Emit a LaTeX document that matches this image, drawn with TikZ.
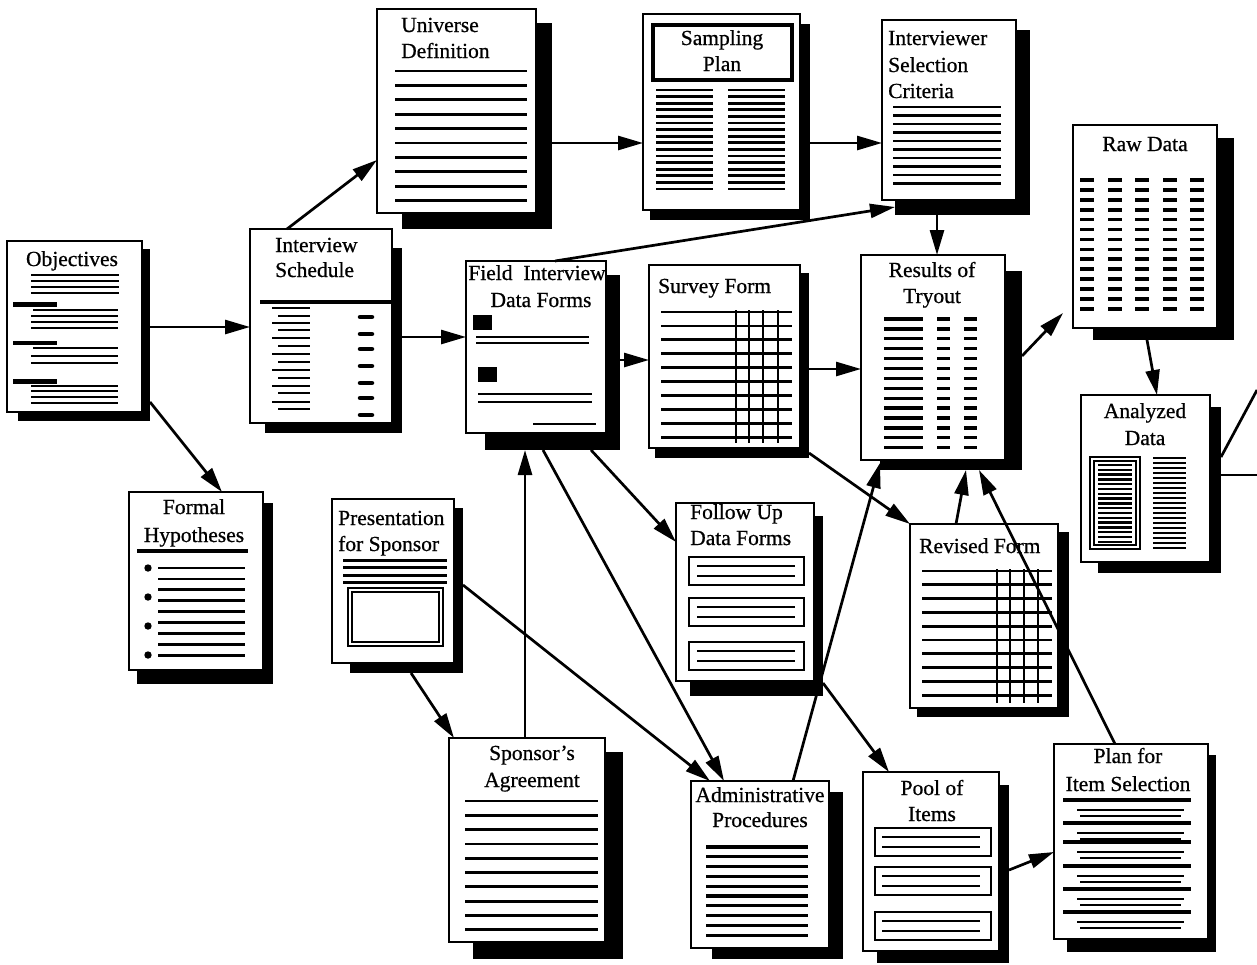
\documentclass[tikz,border=0pt]{standalone}
\usepackage{fontspec}
\setmainfont{Liberation Serif}
\newfontfamily\inkserif{Liberation Serif}[FakeBold=0.7]
\usetikzlibrary{arrows.meta}
\newcommand\titlefont{\inkserif\fontsize{21.5}{26}\selectfont}
% #1 name, #2-#5 page corners, #6-#9 shadow corners
\newcommand\paper[9]{%
  \node[shadowbox, minimum width={#8-#6}, minimum height={#9-#7}] (#1S) at ({(#6+#8)/2},{(#7+#9)/2}) {};
  \node[pagebox, minimum width={#4-#2}, minimum height={#5-#3}] (#1) at ({(#2+#4)/2},{(#3+#5)/2}) {};
}
\begin{document}
\begin{tikzpicture}[x=1pt,y=-1pt,
  shadowbox/.style={fill=black, draw=none, inner sep=0pt, outer sep=0pt},
  pagebox/.style={fill=white, draw=black, line width=2.8pt, inner sep=0pt, outer sep=0pt},
  rule/.style={line width=2.8pt},
  thinrule/.style={line width=1.8pt},
  lbl/.style={font=\titlefont, inner sep=0pt, anchor=base},
  lblw/.style={font=\titlefont, inner sep=0pt, anchor=base west},
  arr/.style={line width=2.7pt, -{Triangle[length=25pt,width=14pt]}},
  link/.style={line width=2.7pt}]
\useasboundingbox (0,0) rectangle (1257,964);
\fill[white] (0,0) rectangle (1257,964);

% ---------- Objectives ----------
\paper{obj}{7}{241}{142}{412}{18}{249}{150}{421}
\node[lbl] (objT) at (72,266) {Objectives};
\foreach \y in {275,281,287,293} \draw[rule] (31,\y) -- (119,\y);
\fill (13,302) rectangle (57,307);
\draw[thinrule] (33,310) -- (118,310);
\foreach \y in {316,322,328} \draw[rule] (31,\y) -- (118,\y);
\fill (13,341) rectangle (57,345);
\draw[thinrule] (33,348) -- (118,348);
\foreach \y in {356,363} \draw[rule] (31,\y) -- (118,\y);
\fill (13,379) rectangle (57,384);
\foreach \y in {386,391,397,403} \draw[rule] (31,\y) -- (118,\y);

% ---------- Interview Schedule ----------
\paper{isch}{250}{229}{392}{423}{265}{248}{402}{433}
\node[lblw] (ischT1) at (275,252) {Interview};
\node[lblw] (ischT2) at (275,277) {Schedule};
\draw[line width=3.2pt] (260,302) -- (391,302);
\foreach \y [count=\i] in {308,316,323,330,338,346,354,362,370,378,386,393,402,409}
  \draw[rule] ({isodd(\i) ? 272 : 278},\y) -- (310,\y);
\foreach \y in {317,334,349,366,383,398,415}
  \draw[line width=4.5pt, line cap=round] (360,\y) -- (372,\y);

% ---------- Universe Definition ----------
\paper{ud}{377}{9}{536}{213}{402}{23}{552}{229}
\node[lblw] (udT1) at (401,32) {Universe};
\node[lblw] (udT2) at (401,58) {Definition};
\foreach \k in {0,...,9} \draw[rule] (395,{71+14.4*\k}) -- (527,{71+14.4*\k});

% ---------- Sampling Plan ----------
\paper{sp}{643}{14}{800}{210}{650}{24}{810}{220}
\draw[line width=4.8pt] (653,25) rectangle (792,80);
\node[lbl] (spT1) at (722,45) {Sampling};
\node[lbl] (spT2) at (722,71) {Plan};
\foreach \k in {0,...,15}
  \draw[rule] (656,{90+6.6*\k}) -- (713,{90+6.6*\k}) (728,{90+6.6*\k}) -- (785,{90+6.6*\k});

% ---------- Interviewer Selection Criteria ----------
\paper{isc}{882}{20}{1016}{200}{895}{30}{1030}{215}
\node[lblw] (iscT1) at (888,45) {Interviewer};
\node[lblw] (iscT2) at (888,72) {Selection};
\node[lblw] (iscT3) at (888,98) {Criteria};
\foreach \k in {0,...,9} \draw[rule] (893,{107+8.5*\k}) -- (1001,{107+8.5*\k});

% ---------- Raw Data ----------
\paper{rd}{1073}{125}{1217}{328}{1093}{138}{1234}{340}
\node[lbl] (rdT) at (1145,151) {Raw Data};
\foreach \c in {1087,1115,1142,1170,1197}
  \foreach \k in {0,...,13}
    \draw[line width=3.6pt] ({\c-7},{180+9.9*\k}) -- ({\c+7},{180+9.9*\k});

% ---------- Analyzed Data ----------
\paper{ad}{1081}{395}{1210}{562}{1098}{407}{1221}{573}
\node[lbl] (adT1) at (1145,418) {Analyzed};
\node[lbl] (adT2) at (1145,445) {Data};
\draw[line width=2.2pt] (1090,457) rectangle (1140,549);
\draw[line width=1.3pt] (1094,461) rectangle (1136,545);
\foreach \k in {0,...,16} \draw[line width=2.5pt] (1098,{465+4.8*\k}) -- (1132,{465+4.8*\k});
\foreach \k in {0,...,18} \draw[line width=2.7pt] (1153,{458+5*\k}) -- (1186,{458+5*\k});

% ---------- Results of Tryout ----------
\paper{rt}{861}{255}{1005}{460}{880}{271}{1022}{470}
\node[lbl] (rtT1) at (932,277) {Results of};
\node[lbl] (rtT2) at (932,303) {Tryout};
\foreach \k in {0,...,13}
  \draw[line width=3.3pt] (884,{319+9.9*\k}) -- (923,{319+9.9*\k})
        (937,{319+9.9*\k}) -- (950,{319+9.9*\k})
        (964,{319+9.9*\k}) -- (977,{319+9.9*\k});

% ---------- Field Interview Data Forms ----------
\paper{fid}{466}{261}{606}{433}{485}{275}{620}{450}
\node[lbl] (fidT1) at (537,280) {Field\enspace Interview};
\node[lbl] (fidT2) at (541,307) {Data Forms};
\fill (473,315) rectangle (492,330);
\draw[rule] (476,337) -- (589,337) (476,343) -- (589,343);
\fill (478,367) rectangle (497,382);
\draw[rule] (478,394) -- (592,394) (478,402) -- (592,402);
\draw[rule] (533,424) -- (596,424);

% ---------- Survey Form ----------
\paper{sf}{649}{265}{800}{448}{655}{273}{809}{458}
\node[lblw] (sfT) at (658,293) {Survey Form};
\foreach \k in {0,...,9} \draw[rule] (661,{312+13.9*\k}) -- (792,{312+13.9*\k});
\foreach \x in {736,749,763,778} \draw[rule] (\x,310) -- (\x,443);

% ---------- Formal Hypotheses ----------
\paper{fh}{129}{492}{263}{670}{137}{503}{273}{684}
\node[lbl] (fhT1) at (194,514) {Formal};
\node[lbl] (fhT2) at (194,542) {Hypotheses};
\draw[line width=3.2pt] (137,551) -- (248,551);
\foreach \y in {568,597,626,655} \fill (148,\y) circle (3.7);
\foreach \k in {0,...,8} \draw[rule] (158,{568+10.9*\k}) -- (245,{568+10.9*\k});

% ---------- Presentation for Sponsor ----------
\paper{ps}{332}{499}{454}{663}{350}{508}{463}{673}
\node[lblw] (psT1) at (338,525) {Presentation};
\node[lblw] (psT2) at (338,551) {for Sponsor};
\foreach \y in {560,567,575,582} \draw[line width=3pt] (343,\y) -- (447,\y);
\draw[line width=2.5pt] (348,588) rectangle (443,646);
\draw[line width=1.1pt] (352,592) rectangle (439,642);

% ---------- Follow Up Data Forms ----------
\paper{fu}{676}{503}{814}{681}{690}{516}{823}{696}
\node[lblw] (fuT1) at (690,519) {Follow Up};
\node[lblw] (fuT2) at (690,545) {Data Forms};
\foreach \t in {557,598,642} {
  \draw[line width=2.5pt] (689,\t) rectangle (804,\t+28);
  \draw[rule] (697,\t+9) -- (795,\t+9) (697,\t+19) -- (795,\t+19);
}

% ---------- Revised Form ----------
\paper{rf}{910}{524}{1058}{708}{917}{532}{1069}{717}
\node[lblw] (rfT) at (919,553) {Revised Form};
\foreach \k in {0,...,9} \draw[rule] (922,{571+13.8*\k}) -- (1052,{571+13.8*\k});
\foreach \x in {997,1010,1024,1038} \draw[rule] (\x,569) -- (\x,703);

% ---------- Sponsor’s Agreement ----------
\paper{sa}{449}{738}{605}{942}{473}{752}{623}{959}
\node[lbl] (saT1) at (532,760) {Sponsor’s};
\node[lbl] (saT2) at (532,787) {Agreement};
\foreach \k in {0,...,9} \draw[rule] (465,{801+14.3*\k}) -- (598,{801+14.3*\k});

% ---------- Administrative Procedures ----------
\paper{ap}{691}{781}{829}{948}{712}{792}{843}{959}
\node[lbl] (apT1) at (760,802) {Administrative};
\node[lbl] (apT2) at (760,827) {Procedures};
\foreach \k in {0,...,9} \draw[line width=3.3pt] (706,{847+9.8*\k}) -- (808,{847+9.8*\k});

% ---------- Pool of Items ----------
\paper{pi}{863}{772}{999}{951}{877}{785}{1009}{963}
\node[lbl] (piT1) at (932,795) {Pool of};
\node[lbl] (piT2) at (932,821) {Items};
\foreach \t in {828,867,912} {
  \draw[line width=2.5pt] (875,\t) rectangle (991,\t+28);
  \draw[rule] (882,\t+9) -- (980,\t+9) (882,\t+19) -- (980,\t+19);
}

% ---------- Plan for Item Selection ----------
\paper{pis}{1054}{744}{1208}{939}{1067}{755}{1216}{952}
\node[lbl] (pisT1) at (1128,763) {Plan for};
\node[lbl] (pisT2) at (1128,791) {Item Selection};
\foreach \y in {800,823,842,866,889,912} {
  \draw[line width=4.4pt] (1063,\y) -- (1191,\y);
  \draw[rule] (1077,\y+10) -- (1184,\y+10) (1080,\y+16) -- (1181,\y+16);
}

% ---------- connectors ----------
\draw[arr] (objS.east |- 0,327) -- (isch.west |- 0,327);
\draw[arr] (objS.east |- 0,402) -- (fh.north -| 222,0);
\draw[arr] (isch.north -| 287,0) -- (ud.west |- 0,160);
\draw[arr] (ischS.east |- 0,337) -- (fid.west |- 0,337);
\draw[arr] (udS.east |- 0,143) -- (sp.west |- 0,143);
\draw[arr] (spS.east |- 0,143) -- (isc.west |- 0,143);
\draw[arr] (fid.north -| 555,0) -- (iscS.west |- 0,207);
\draw[arr] (iscS.south -| 937,0) -- (rt.north -| 937,0);
\draw[arr] (fidS.east |- 0,360) -- (sf.west |- 0,360);
\draw[arr] (sfS.east |- 0,369) -- (rt.west |- 0,369);
\draw[arr] (rtS.east |- 0,356) -- (1063,313) coordinate (rdIn);
\draw[arr] (rdS.south -| 1147,0) -- (ad.north -| 1157,0);
\draw[arr] (fidS.south -| 591,0) -- (fu.west |- 0,542);
\draw[arr] (fidS.south -| 543,0) -- (ap.north -| 724,0);
\draw[arr] (sa.north -| 525,0) -- (fidS.south -| 525,0);
\draw[arr] (psS.south -| 411,0) -- (sa.north -| 454,0);
\draw[arr] (psS.east |- 0,585) -- (ap.north -| 710,0);
\draw[arr] (sfS.east |- 0,453) -- (rf.north west);
\draw[arr] (ap.north -| 793,0) -- (rtS.west |- 0,463);
\draw[arr] (fuS.east |- 0,683) -- (pi.north -| 889,0);
\draw[arr] (rf.north -| 956,0) -- (rtS.south -| 966,0);
\draw[arr] (pis.north -| 1115,0) -- (rtS.south -| 979,0);
\draw[arr] (piS.east |- 0,870) -- (pis.west |- 0,852);
\coordinate (outA) at (1257,390);
\coordinate (outB) at (1257,475);
\draw[link] (adS.east |- 0,457) -- (outA);
\draw[link, line width=2pt] (adS.east |- 0,475) -- (outB);
\end{tikzpicture}
\end{document}
